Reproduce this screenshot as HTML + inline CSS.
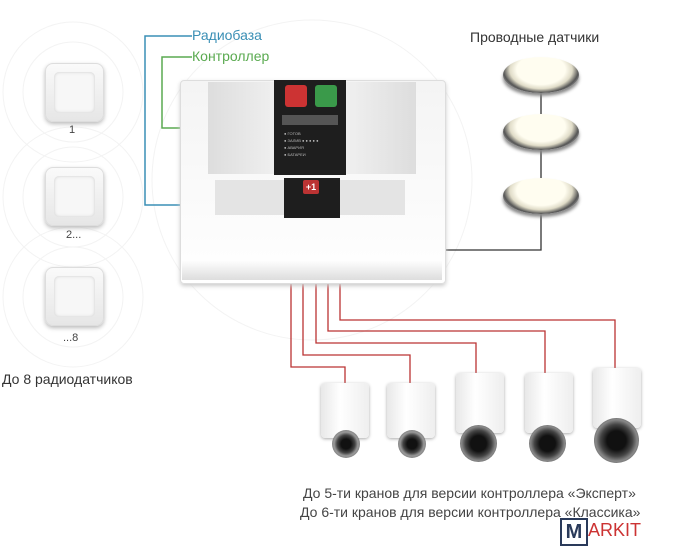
<!DOCTYPE html>
<html><head><meta charset="utf-8"><style>
body{margin:0;width:674px;height:550px;background:#fff;position:relative;overflow:hidden;font-family:"Liberation Sans",sans-serif}
.a{position:absolute}
.t{position:absolute;font-size:14px;color:#444;white-space:nowrap}
.sq{position:absolute;width:57px;height:57px;border-radius:8px;background:linear-gradient(#fafafa,#e6e6e6);box-shadow:0 2px 4px #bbb;border:1px solid #ddd}
.sq::after{content:"";position:absolute;left:8px;top:8px;width:41px;height:41px;border-radius:5px;background:#f7f7f7;box-shadow:inset 0 0 3px #ccc}
.sen{position:absolute;width:76px;height:36px;border-radius:50%;background:radial-gradient(ellipse at 50% 35%,#fffdf0 45%,#e0dcc8 58%,#555 70%,#aaa 80%,#333 95%);box-shadow:0 3px 3px #888}
.vb{position:absolute;width:48px;background:linear-gradient(90deg,#e8e8e8,#fff 40%,#eee);border-radius:4px;box-shadow:0 1px 3px #aaa}
.vc{position:absolute;border-radius:50%;background:radial-gradient(circle,#111 30%,#444 50%,#888 65%,#666 80%,#aaa)}
</style></head><body>
<svg class="a" style="left:0;top:0" width="674" height="550">
<g fill="none" stroke="#f3f3f3" stroke-width="1">
<circle cx="73" cy="92" r="50"/><circle cx="73" cy="92" r="70"/><circle cx="73" cy="197" r="50"/><circle cx="73" cy="197" r="70"/><circle cx="73" cy="297" r="50"/><circle cx="73" cy="297" r="70"/>
<circle cx="312" cy="180" r="160"/>
</g>
<polyline points="192,36 145,36 145,205 182,205" fill="none" stroke="#3a8fb5" stroke-width="1.5"/>
<polyline points="192,57 162,57 162,128 182,128" fill="none" stroke="#5aaa50" stroke-width="1.5"/>
<polyline points="541,85 541,250 440,250" fill="none" stroke="#333" stroke-width="1.3"/>
<g fill="none" stroke="#b33" stroke-width="1.3">
<polyline points="291,283 291,367 345,367 345,385"/>
<polyline points="303,283 303,355 410,355 410,385"/>
<polyline points="316,283 316,343 476,343 476,375"/>
<polyline points="328,283 328,331 545,331 545,375"/>
<polyline points="340,283 340,320 615,320 615,370"/>
</g>
</svg>
<div class="t" style="left:192px;top:27px;color:#3a8fb5">Радиобаза</div>
<div class="t" style="left:192px;top:48px;color:#5aaa50">Контроллер</div>
<div class="t" style="left:470px;top:29px;color:#333">Проводные датчики</div>
<div class="sq" style="left:45px;top:63px"></div>
<div class="sq" style="left:45px;top:167px"></div>
<div class="sq" style="left:45px;top:267px"></div>
<div class="t" style="left:69px;top:124px;font-size:11px">1</div>
<div class="t" style="left:66px;top:229px;font-size:11px">2...</div>
<div class="t" style="left:63px;top:332px;font-size:11px">...8</div>
<div class="t" style="left:2px;top:371px;color:#333">До 8 радиодатчиков</div>
<div class="sen" style="left:503px;top:57px"></div>
<div class="sen" style="left:503px;top:114px"></div>
<div class="sen" style="left:503px;top:178px"></div>
<div class="a" style="left:180px;top:80px;width:264px;height:202px;background:linear-gradient(#f4f4f4,#fff);border:1px solid #ddd;border-radius:4px;box-shadow:0 2px 4px #ccc"></div>
<div class="a" style="left:208px;top:82px;width:208px;height:92px;background:linear-gradient(90deg,#ddd,#eee 30%,#eee 70%,#ddd)"></div>
<div class="a" style="left:274px;top:80px;width:72px;height:95px;background:#1e1e1e"></div>
<div class="a" style="left:285px;top:85px;width:22px;height:22px;background:#c33;border-radius:3px"></div>
<div class="a" style="left:315px;top:85px;width:22px;height:22px;background:#3a9a4a;border-radius:3px"></div>
<div class="a" style="left:282px;top:115px;width:56px;height:10px;background:#555"></div>
<div class="a" style="left:284px;top:130px;width:50px;font-size:4px;color:#bbb;line-height:7px">● ГОТОВ<br>● ЗАЛИВ ● ● ● ● ●<br>● АВАРИЯ<br>● БАТАРЕИ</div>
<div class="a" style="left:215px;top:180px;width:190px;height:35px;background:#e4e4e4"></div>
<div class="a" style="left:284px;top:178px;width:56px;height:40px;background:#1e1e1e"></div>
<div class="a" style="left:303px;top:180px;width:16px;height:14px;background:#b33;border-radius:2px;color:#fff;font-size:9px;text-align:center;line-height:14px;font-weight:bold">+1</div>
<div class="a" style="left:182px;top:260px;width:260px;height:20px;background:linear-gradient(#fff,#ddd)"></div>
<div class="vb" style="left:321px;top:383px;height:55px"></div><div class="vc" style="left:332px;top:430px;width:28px;height:28px;background:radial-gradient(circle,#111 25%,#444 45%,#999 60%,#777 80%,#bbb)"></div>
<div class="vb" style="left:387px;top:383px;height:55px"></div><div class="vc" style="left:398px;top:430px;width:28px;height:28px;background:radial-gradient(circle,#111 25%,#444 45%,#999 60%,#777 80%,#bbb)"></div>
<div class="vb" style="left:456px;top:373px;height:60px"></div><div class="vc" style="left:460px;top:425px;width:37px;height:37px"></div>
<div class="vb" style="left:525px;top:373px;height:60px"></div><div class="vc" style="left:529px;top:425px;width:37px;height:37px"></div>
<div class="vb" style="left:593px;top:368px;height:60px"></div><div class="vc" style="left:594px;top:418px;width:45px;height:45px"></div>
<div class="t" style="left:303px;top:485px">До 5-ти кранов для версии контроллера «Эксперт»</div>
<div class="t" style="left:300px;top:504px">До 6-ти кранов для версии контроллера «Классика»</div>
<div class="a" style="left:560px;top:518px;width:24px;height:24px;border:2px solid #2a3a5a;color:#2a3a5a;font-size:20px;font-weight:bold;text-align:center;line-height:24px;background:#fff">M</div>
<div class="t" style="left:588px;top:520px;color:#c33;font-size:18px">ARKIT</div>
</body></html>
